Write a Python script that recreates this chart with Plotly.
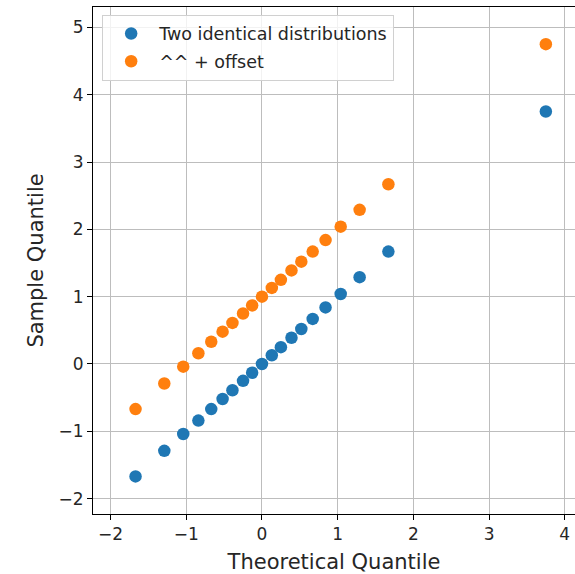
import plotly.graph_objects as go

theoretical = [-1.67, -1.29, -1.04, -0.84, -0.67, -0.52, -0.39, -0.25, -0.13, 0.0,
               0.13, 0.25, 0.39, 0.52, 0.67, 0.84, 1.04, 1.29, 1.67, 3.75]
sample_same = [-1.67, -1.29, -1.04, -0.84, -0.67, -0.52, -0.39, -0.25, -0.13, 0.0,
               0.13, 0.25, 0.39, 0.52, 0.67, 0.84, 1.04, 1.29, 1.67, 3.75]
sample_offset = [-0.67, -0.29, -0.04, 0.16, 0.33, 0.48, 0.61, 0.75, 0.87, 1.0,
                 1.13, 1.25, 1.39, 1.52, 1.67, 1.84, 2.04, 2.29, 2.67, 4.75]
series_names = ["Two identical distributions", "^^ + offset"]
colors = ["#1f77b4", "#ff7f0e"]
x_ticks = [-2, -1, 0, 1, 2, 3, 4]
y_ticks = [-2, -1, 0, 1, 2, 3, 4, 5]

FONT = "DejaVu Sans"
TXT = "#262626"

fig = go.Figure()
for name, ys, c in zip(series_names, [sample_same, sample_offset], colors):
    fig.add_trace(go.Scatter(
        x=theoretical, y=ys, mode="markers", name=name, legendgroup=name,
        marker=dict(color=c, size=12.5, line=dict(width=0)),
    ))

axis_common = dict(
    showgrid=True, gridcolor="#bdbdbd", gridwidth=1.3,
    showline=True, linecolor="black", linewidth=1.1,
    ticks="outside", ticklen=5, tickwidth=1.1, tickcolor="black",
    tickfont=dict(family=FONT, size=17, color=TXT),
    zeroline=False,
)

fig.update_layout(
    width=575, height=574,
    margin=dict(l=93, r=0, t=7, b=60),
    paper_bgcolor="white", plot_bgcolor="white",
    font=dict(family=FONT, size=17, color=TXT),
    xaxis=dict(range=[-2.232, 4.135], tickvals=x_ticks, mirror=True,
               title=dict(text="Theoretical Quantile", font=dict(family=FONT, size=21, color=TXT), standoff=10),
               **axis_common),
    yaxis=dict(range=[-2.228, 5.302], tickvals=y_ticks,
               title=dict(text="Sample Quantile", font=dict(family=FONT, size=21, color=TXT), standoff=9),
               **axis_common),
    legend=dict(
        x=0.019, y=0.985, xanchor="left", yanchor="top",
        bgcolor="rgba(255,255,255,0.8)", bordercolor="#d0d0d0", borderwidth=1,
        font=dict(family=FONT, size=17.5, color=TXT),
        tracegroupgap=2, itemwidth=46,
    ),
    showlegend=True,
)

fig.write_html("out.html")
